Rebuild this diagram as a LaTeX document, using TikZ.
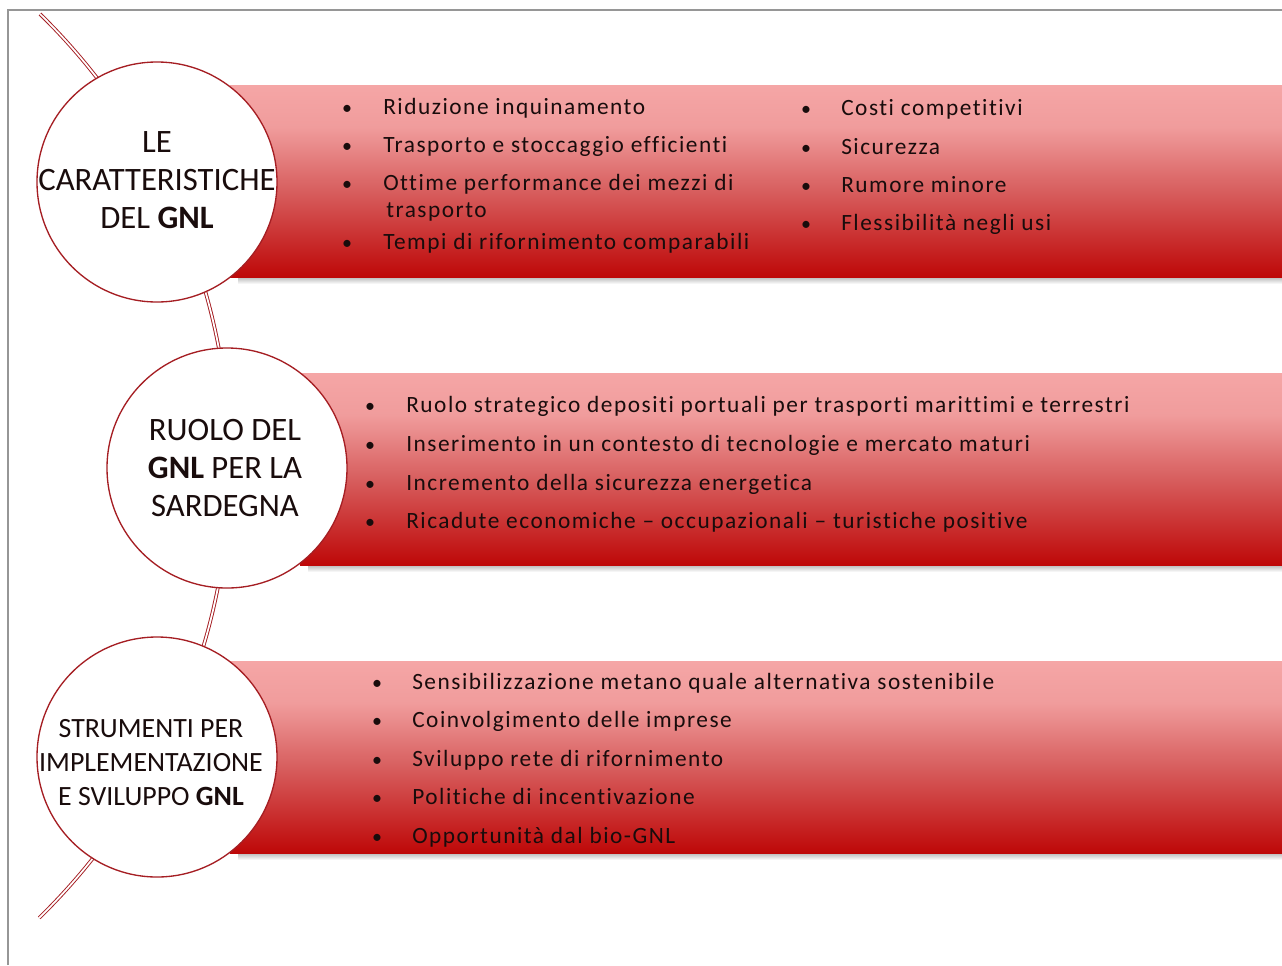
\documentclass[tikz,border=0pt]{standalone}
\usepackage{fontspec}
\setmainfont{Carlito}[Ligatures=NoCommon]
\newfontfamily\bandfont{Carlito}[Ligatures=NoCommon, LetterSpace=6.5]

\definecolor{bandtop}{RGB}{245,166,166}
\definecolor{bandhigh}{RGB}{240,156,156}
\definecolor{bandmid}{RGB}{216,96,96}
\definecolor{bandbot}{RGB}{190,8,8}
\definecolor{rimred}{RGB}{165,30,35}
\definecolor{framegray}{RGB}{150,150,150}
\definecolor{inktext}{RGB}{25,12,12}

\pgfdeclareverticalshading{bandfade}{100bp}{color(0bp)=(bandbot); color(25bp)=(bandbot);
  color(48bp)=(bandmid); color(64bp)=(bandhigh); color(75bp)=(bandtop); color(100bp)=(bandtop)}

\tikzset{
  topic/.style={circle, draw=rimred, line width=1pt, fill=white, minimum size=180pt, inner sep=0pt},
  topictxt/.style={align=center, inner sep=0pt, text=inktext, font=\fontsize{24.5}{28.5}\selectfont},
  bandtxt/.style={anchor=base west, inner sep=0pt, text=inktext, font=\bandfont\fontsize{17.5}{21}\selectfont},
  bulletmark/.style={anchor=base, inner sep=0pt, text=inktext, font=\fontsize{15}{17}\selectfont},
  spine/.style={rimred, line width=0.7pt, double=white, double distance=1.3pt}
}

\begin{document}
\begin{tikzpicture}[x=0.75pt, y=-0.75pt]
  \useasboundingbox (0,0) rectangle (1282,965);
  % frame
  \draw[framegray, line width=1.2pt] (8,965) -- (8,10) -- (1282,10);

  % spine through the three circles
  \coordinate (spinetop) at (40,14);
  \draw[spine] (spinetop) arc[start angle=-45.6, end angle=45.7, radius=632];

  % shaded bands with their shadow
  \foreach \xl/\yt/\yb in {230/85/277, 300/373/565, 230/661/853} {
    \shade[top color=gray!55, bottom color=white] (\xl+8,\yb) rectangle (1282,\yb+7);
    \shade[shading=bandfade] (\xl,\yt) rectangle (1282,\yb);
  }

  % circles
  \node[topic] (caratt) at (157,182) {};
  \node[topic] (ruolo) at (227,468) {};
  \node[topic] (strum) at (157,757) {};
  \node[topictxt] (caratttxt) at ([yshift=1.5pt]caratt.center) {LE\\CARATTERISTICHE\\DEL \textbf{GNL}};
  \node[topictxt] (ruolotxt) at ([xshift=-1.5pt]ruolo.center) {RUOLO DEL\\\textbf{GNL} PER LA\\SARDEGNA};
  \node[topictxt, font=\fontsize{20.9}{25.5}\selectfont] (strumtxt) at ([xshift=-4.5pt, yshift=-4pt]strum.center)
    {STRUMENTI PER\\IMPLEMENTAZIONE\\E SVILUPPO \textbf{GNL}};

  % band 1
  \foreach \yy/\txt [count=\i] in {114/Riduzione inquinamento, 152/Trasporto e stoccaggio efficienti,
      190/Ottime performance dei mezzi di, 249/Tempi di rifornimento comparabili} {
    \node[bulletmark] (pa\i) at (347,\yy) {•};
    \node[bandtxt] (ta\i) at (383,\yy) {\txt};
  }
  \node[bandtxt] (ta3b) at (386,217) {trasporto};
  \foreach \yy/\txt [count=\i] in {115/Costi competitivi, 154/Sicurezza,
      192/Rumore minore, 230/Flessibilità negli usi} {
    \node[bulletmark] (pb\i) at (806,\yy) {•};
    \node[bandtxt] (tb\i) at (841,\yy) {\txt};
  }

  % band 2
  \foreach \yy/\txt [count=\i] in {412/Ruolo strategico depositi portuali per trasporti marittimi e terrestri,
      451/Inserimento in un contesto di tecnologie e mercato maturi,
      490/Incremento della sicurezza energetica,
      528/Ricadute economiche – occupazionali – turistiche positive} {
    \node[bulletmark] (pc\i) at (370,\yy) {•};
    \node[bandtxt] (tc\i) at (406,\yy) {\txt};
  }

  % band 3
  \foreach \yy/\txt [count=\i] in {689/Sensibilizzazione metano quale alternativa sostenibile,
      727/Coinvolgimento delle imprese, 766/Sviluppo rete di rifornimento,
      804/Politiche di incentivazione, 843/Opportunità dal bio-GNL} {
    \node[bulletmark] (pd\i) at (377,\yy) {•};
    \node[bandtxt] (td\i) at (412,\yy) {\txt};
  }
\end{tikzpicture}
\end{document}
